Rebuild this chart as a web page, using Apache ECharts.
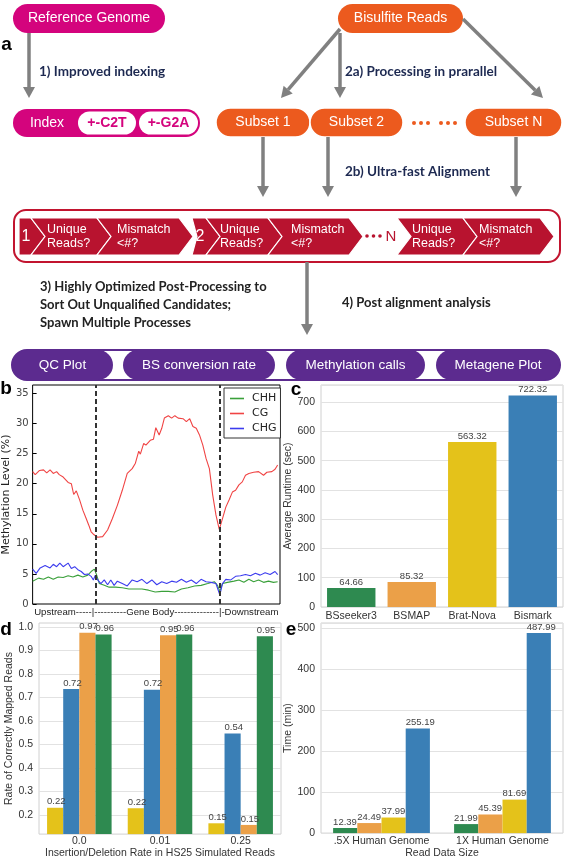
<!DOCTYPE html>
<html><head><meta charset="utf-8">
<script src="https://cdn.jsdelivr.net/npm/echarts@6/dist/echarts.min.js"></script>
<style>html,body{margin:0;padding:0;background:#fff}#chart{width:567px;height:860px}</style>
</head><body><div id="chart"></div>
<script>
// ---------------- data ----------------
// panel b: metagene methylation profile (bin position along region, methylation %)
const cgBins  = [0,2.1,5.6,8.8,11.4,14.1,16.7,19.4,21.5,24.7,28.7,31.3,33.2,35.3,38.0,40.6,43.3,45.4,47.3,49.1,50.7,52.6,56.6,60.6,64.5,68.5,72.5,76.5,80.5,83.1,85.8,87.1,89.8,91.6,95.1,97.7,99.6,102.3,104.4,106.5,109.7,112.4,115.0,117.7,121.6,124.3,127.0,129.6,132.3,134.9,137.6,140.2,142.9,145.6,148.2,150.9,153.5,156.2,158.8,161.5,164.1,166.8,169.5,172.1,174.8,178.7,182.7,186.7,189.4,193.4,196.0,198.1];
const cgLevel = [22.0,21.5,22.2,22.3,21.8,22.3,21.7,22.0,21.5,21.1,20.2,20.0,18.2,18.8,17.3,15.6,14.2,13.1,12.0,11.6,11.6,11.1,11.2,12.3,14.2,16.4,18.9,21.7,22.5,23.4,25.4,24.9,26.7,26.4,27.2,27.4,29.3,28.1,29.2,30.9,31.3,30.9,31.3,30.9,30.8,30.3,30.8,29.5,29.2,28.1,26.4,24.2,22.5,18.1,14.8,12.4,14.2,16.1,17.3,18.6,18.9,19.8,20.3,21.4,21.7,21.9,22.0,21.4,21.9,22.0,22.4,23.1];
const chgBins  = [0,2.9,6.1,10.1,14.1,16.7,19.4,22.0,24.7,28.7,31.3,34.0,36.6,39.3,41.9,44.6,47.3,49.1,50.7,52.6,55.2,57.9,60.6,63.2,65.9,68.5,72.5,76.5,80.5,84.5,88.4,92.4,96.4,100.4,104.4,108.4,112.4,116.3,120.3,124.3,128.3,132.3,136.2,140.2,144.2,148.2,151.4,153.5,156.2,160.2,164.1,168.1,172.1,176.1,180.1,184.0,188.0,192.0,196.0,198.1];
const chgLevel = [5.8,5.1,6.0,6.4,6.0,6.6,6.2,6.8,6.2,6.8,5.9,6.2,5.7,5.4,4.9,5.0,4.6,4.0,4.8,4.0,3.4,4.0,3.2,4.0,3.1,3.8,3.4,3.0,4.0,3.7,4.1,3.4,4.0,3.2,3.7,3.4,3.8,3.6,4.1,3.6,4.0,3.4,4.1,3.7,3.6,3.4,1.5,3.4,4.1,4.0,4.6,4.7,4.9,4.7,5.1,4.8,5.2,4.9,5.4,4.9];
const chhBins  = [0,4.8,8.8,12.7,16.7,20.7,24.7,28.7,32.6,36.6,40.6,44.6,47.3,49.9,51.8,53.9,57.9,61.9,67.2,72.5,77.8,83.1,88.4,93.7,99.1,104.4,109.7,115.0,120.3,125.6,130.9,136.2,141.6,146.9,149.5,151.4,153.5,157.5,162.8,166.8,170.8,174.8,178.7,182.7,186.7,190.7,194.7,198.1];
const chhLevel = [3.8,4.3,4.1,4.5,4.1,4.5,4.4,4.7,4.5,4.8,4.5,4.8,5.4,5.8,4.8,3.4,3.1,2.8,2.8,2.7,2.5,2.5,2.5,2.3,2.0,2.1,2.1,2.0,2.5,2.7,3.0,3.1,3.4,3.7,3.1,2.1,3.4,3.6,3.8,4.0,3.6,4.1,3.7,4.0,3.6,3.8,3.6,3.7];
const boundaryBins = [50.7, 151.4];

// panel c: average runtime (sec)
const runtimeTools = ['BSseeker3','BSMAP','Brat-Nova','Bismark'];
const runtimeSec   = [64.66, 85.32, 563.32, 722.32];

// panel d: rate of correctly mapped reads
const indelRates = ['0.0','0.01','0.25'];
const mapTools   = ['Brat-Nova','Bismark','BSMAP','BSseeker3'];
const mapRate    = [[0.231,0.229,0.165],[0.736,0.733,0.547],[0.976,0.965,0.158],[0.968,0.968,0.961]];
const mapLabels  = [['0.22','0.22','0.15'],['0.72','0.72','0.54'],['0.97','0.95','0.15'],['0.96','0.96','0.95']];
const mapTicks   = [0.2,0.3,0.4,0.5,0.6,0.7,0.8,0.9,1.0];

// panel e: time (min) by read data size
const dataSizes = ['.5X Human Genome','1X Human Genome'];
const timeTools = ['BSseeker3','BSMAP','Brat-Nova','Bismark'];
const timeMin   = [[12.39,21.99],[24.49,45.39],[37.99,81.69],[255.19,487.99]];

// ---------------- styling ----------------
const FONT = '"Liberation Sans", Arial, sans-serif';
const DJV  = '"DejaVu Sans", sans-serif';
const BOLD = 'Lato, "Open Sans", sans-serif';
const MAG='#d4047d', ORG='#ec5a1e', CRED='#b8132f', CBORDER='#c2142f', PUR='#5c2b8f', ARR='#808080';
const toolColor = {'BSseeker3':'#2e8a50','BSMAP':'#eba048','Brat-Nova':'#e4c21a','Bismark':'#3a7fb6'};
const lineColor = {'CHH':'#3aa03a','CG':'#f04444','CHG':'#3c3cee'};

// ---------------- flowchart (panel a) ----------------
const G = [];
function rect(x,y,w,h,r,fill,stroke,lw){ G.push({type:'rect', shape:{x:x,y:y,width:w,height:h,r:r}, style:{fill:fill, stroke:stroke||null, lineWidth:lw||0}}); }
function text(x,y,str,size,color,opt){ opt=opt||{}; G.push({type:'text', x:x, y:y, style:{text:str, fill:color, fontSize:size, fontFamily:opt.family||FONT, fontWeight:opt.weight||'normal', textAlign:opt.align||'center', textVerticalAlign:'middle'}}); }
function arrow(x1,y1,x2,y2){ const dx=x2-x1, dy=y2-y1, L=Math.hypot(dx,dy), ux=dx/L, uy=dy/L, hl=11, hw=6; const bx=x2-ux*hl, by=y2-uy*hl;
  G.push({type:'line', shape:{x1:x1,y1:y1,x2:bx,y2:by}, style:{stroke:ARR, lineWidth:3.5}});
  G.push({type:'polygon', shape:{points:[[x2,y2],[bx-uy*hw,by+ux*hw],[bx+uy*hw,by-ux*hw]]}, style:{fill:ARR}}); }
function chevron(xl, xs, notch, tip){ const t=218, b=255, m=236.5;
  G.push({type:'polygon', shape:{points:[[xl,t],[xs,t],[xs+tip,m],[xs,b],[xl,b],[xl+notch,m]]}, style:{fill:CRED, stroke:'#fff', lineWidth:1.2}}); }

// top pills
rect(13,4,152,29,14.5,MAG); text(89,18.5,'Reference Genome',14,'#fff');
rect(338,4,125,29,14.5,ORG); text(400.5,18.5,'Bisulfite Reads',14,'#fff');
text(6.5,45,'a',19,'#000',{weight:'bold'});
// arrows
arrow(29,33,29,98);
arrow(340,29,281,98); arrow(340,33,340,98); arrow(463,19,543,98);
text(39,72,'1) Improved indexing',13.5,'#1d2951',{weight:'bold',family:BOLD,align:'left'});
text(345,72,'2a) Processing in prarallel',13.5,'#1d2951',{weight:'bold',family:BOLD,align:'left'});
// index row
rect(13,109,187,28,14,MAG);
text(47,123,'Index',14,'#fff');
rect(78,111.5,58,23,11.5,'#fff'); text(107,123,'+-C2T',14,MAG,{weight:'bold'});
rect(139,111.5,59,23,11.5,'#fff'); text(168.5,123,'+-G2A',14,MAG,{weight:'bold'});
// subsets
rect(216,108,94,29,14.5,ORG,'#fff',1.5); text(263,122.5,'Subset 1',14,'#fff');
rect(310,108,93,29,14.5,ORG,'#fff',1.5); text(356.5,122.5,'Subset 2',14,'#fff');
rect(465,108,97,29,14.5,ORG,'#fff',1.5); text(513.5,122.5,'Subset N',14,'#fff');
[414,421,428,441,448,455].forEach(function(cx){ G.push({type:'circle', shape:{cx:cx, cy:123, r:2}, style:{fill:ORG}}); });
arrow(263,137,263,197); arrow(328,137,328,197); arrow(516,137,516,197);
text(345,172,'2b) Ultra-fast Alignment',13.5,'#1d2951',{weight:'bold',family:BOLD,align:'left'});
// alignment box
rect(14,210,546,52,12,'#fff',CBORDER,2);
chevron(19,31,0,14); chevron(31,97,14,14); chevron(97,179,14,14);
chevron(192,206,5,14); chevron(206,268,14,14); chevron(268,349,14,14);
chevron(397,463,14,14); chevron(463,540,14,14);
text(26,237,'1',16,'#fff'); text(200,237,'2',16,'#fff');
[[47,'Unique','Reads?'],[117,'Mismatch','<#?'],[220,'Unique','Reads?'],[291,'Mismatch','<#?'],[412,'Unique','Reads?'],[479,'Mismatch','<#?']].forEach(function(c){
  text(c[0],230,c[1],12.5,'#fff',{align:'left'}); text(c[0],243.5,c[2],12.5,'#fff',{align:'left'}); });
[367,373.5,380].forEach(function(cx){ G.push({type:'circle', shape:{cx:cx, cy:236, r:1.8}, style:{fill:CRED}}); });
text(391,237,'N',15,CRED);
arrow(307,262,307,335);
text(40,287,'3) Highly Optimized Post-Processing to',13,'#222',{weight:'bold',family:BOLD,align:'left'});
text(40,305,'Sort Out Unqualified Candidates;',13,'#222',{weight:'bold',family:BOLD,align:'left'});
text(40,323,'Spawn Multiple Processes',13,'#222',{weight:'bold',family:BOLD,align:'left'});
text(342,303,'4) Post alignment analysis',13,'#222',{weight:'bold',family:BOLD,align:'left'});
// analysis bar
rect(12,350,548,30,15,'#fff',PUR,2);
[[12,113,'QC Plot'],[123,275,'BS conversion rate'],[286,425,'Methylation calls'],[436,560,'Metagene Plot']].forEach(function(p){
  rect(p[0],350,p[1]-p[0],30,15,PUR); text((p[0]+p[1])/2,365,p[2],13.5,'#fff'); });
// panel letters
text(6,389,'b',19,'#000',{weight:'bold'});
text(296,390,'c',19,'#000',{weight:'bold'});
text(6,630,'d',19,'#000',{weight:'bold'});
text(291,630,'e',19,'#000',{weight:'bold'});
G.forEach(function(g){ g.z = 100; });

// ---------------- chart option ----------------
const axisText = {fontSize:10.5, color:'#333', fontFamily:FONT};
const nameText = {fontSize:10.5, color:'#333', fontFamily:FONT};
const lightGrid = {lineStyle:{color:'#e2e2e2', width:1}};

const series = [];
[['CHH',chhBins,chhLevel],['CG',cgBins,cgLevel],['CHG',chgBins,chgLevel]].forEach(function(s){
  const ser = {name:s[0], type:'line', xAxisIndex:0, yAxisIndex:0, showSymbol:false, symbol:'none',
    lineStyle:{color:lineColor[s[0]], width:1.1}, itemStyle:{color:lineColor[s[0]]},
    data:s[1].map(function(x,i){ return [x, s[2][i]]; })};
  if (s[0]==='CG') ser.markLine = {silent:true, symbol:'none', label:{show:false}, z:5,
    lineStyle:{color:'#333', type:[5,3], width:2}, data:boundaryBins.map(function(v){ return {xAxis:v}; })};
  series.push(ser);
});
series.push({type:'bar', xAxisIndex:1, yAxisIndex:1, barWidth:'80%',
  data:runtimeSec.map(function(v,i){ return {value:v, itemStyle:{color:toolColor[runtimeTools[i]]}}; }),
  label:{show:true, position:'top', distance:1, fontSize:9.5, color:'#444', fontFamily:FONT, formatter:function(p){ return p.value.toFixed(2); }}});
mapTools.forEach(function(t,k){
  series.push({name:t+' ', type:'bar', xAxisIndex:2, yAxisIndex:2, barGap:'0%', barCategoryGap:'20%', clip:true,
    itemStyle:{color:toolColor[t]}, data:mapRate[k],
    label:{show:true, position:[0,-11], fontSize:9.5, color:'#444', fontFamily:FONT, formatter:function(p){ return mapLabels[k][p.dataIndex]; }}});
});
timeTools.forEach(function(t,k){
  series.push({name:t+'  ', type:'bar', xAxisIndex:3, yAxisIndex:3, barGap:'0%', barCategoryGap:'20%',
    itemStyle:{color:toolColor[t]}, data:timeMin[k],
    label:{show:true, position:[0,-11], fontSize:9.5, color:'#444', fontFamily:FONT, formatter:function(p){ return p.value.toFixed(2); }}});
});

const option = {
  animation:false, backgroundColor:'#fff',
  textStyle:{fontFamily:FONT},
  graphic:{elements:G},
  legend:[{data:['CHH','CG','CHG'], orient:'vertical', left:224, top:388, icon:'rect', itemWidth:14, itemHeight:1.6, itemGap:2,
    padding:[4,4,3,6], backgroundColor:'#fff', borderColor:'#333', borderWidth:1,
    textStyle:{fontSize:11, color:'#222', fontFamily:DJV, lineHeight:13, padding:[0,0,0,3]}}],
  grid:[
    {left:29, top:385, width:251, height:219, show:true, borderColor:'#000', borderWidth:1},
    {left:321, top:385, width:242, height:222, show:true, borderColor:'#d0d0d0', borderWidth:1},
    {left:39, top:623, width:242, height:213, show:true, borderColor:'#d0d0d0', borderWidth:1},
    {left:321, top:623, width:242, height:211, show:true, borderColor:'#d0d0d0', borderWidth:1}
  ],
  xAxis:[
    {gridIndex:0, type:'value', min:0, max:200, axisLine:{show:false}, axisTick:{show:false}, axisLabel:{show:false}, splitLine:{show:false},
      name:'Upstream-----|----------Gene Body--------------|-Downstream', nameLocation:'middle', nameGap:3,
      nameTextStyle:{fontSize:9.6, color:'#222', fontFamily:FONT, verticalAlign:'top'}},
    {gridIndex:1, type:'category', data:runtimeTools, axisLine:{show:false}, axisTick:{show:false}, axisLabel:Object.assign({margin:4, interval:0, hideOverlap:false}, axisText)},
    {gridIndex:2, type:'category', data:indelRates, axisLine:{show:false}, axisTick:{show:false}, axisLabel:Object.assign({margin:2, interval:0}, axisText),
      name:'Insertion/Deletion Rate in HS25 Simulated Reads', nameLocation:'middle', nameGap:12, nameTextStyle:nameText},
    {gridIndex:3, type:'category', data:dataSizes, axisLine:{show:false}, axisTick:{show:false}, axisLabel:Object.assign({margin:3, interval:0, hideOverlap:false}, axisText),
      name:'Read Data Size', nameLocation:'middle', nameGap:13, nameTextStyle:nameText}
  ],
  yAxis:[
    {gridIndex:0, type:'value', min:0, max:36.4, interval:5, axisLine:{show:false},
      axisTick:{show:true, inside:true, length:4, lineStyle:{color:'#000'}},
      axisLabel:{fontSize:10, color:'#444', margin:4, showMaxLabel:false, fontFamily:DJV}, splitLine:{show:false},
      name:'Methylation Level (%)', nameLocation:'middle', nameGap:13, nameTextStyle:{fontSize:11, color:'#222', fontFamily:DJV}},
    {gridIndex:1, type:'value', min:0, max:758.4, interval:100, axisLine:{show:false}, axisTick:{show:false},
      axisLabel:Object.assign({margin:6, showMaxLabel:false}, axisText), splitLine:lightGrid,
      name:'Average Runtime (sec)', nameLocation:'middle', nameGap:19, nameTextStyle:nameText},
    {gridIndex:2, type:'value', min:0.119, max:1.017, axisLine:{show:false},
      axisTick:{show:false, customValues:mapTicks},
      axisLabel:Object.assign({margin:6, customValues:mapTicks, formatter:function(v){ return v.toFixed(1); }}, axisText),
      splitLine:lightGrid,
      name:'Rate of Correctly Mapped Reads', nameLocation:'middle', nameGap:23, nameTextStyle:nameText},
    {gridIndex:3, type:'value', min:0, max:512.4, interval:100, axisLine:{show:false}, axisTick:{show:false},
      axisLabel:Object.assign({margin:6, showMaxLabel:false}, axisText), splitLine:lightGrid,
      name:'Time (min)', nameLocation:'middle', nameGap:25, nameTextStyle:nameText}
  ],
  series:series
};
const chart = echarts.init(document.getElementById('chart'), null, {renderer:'canvas', width:567, height:860});
chart.setOption(option);
</script>
</body></html>
